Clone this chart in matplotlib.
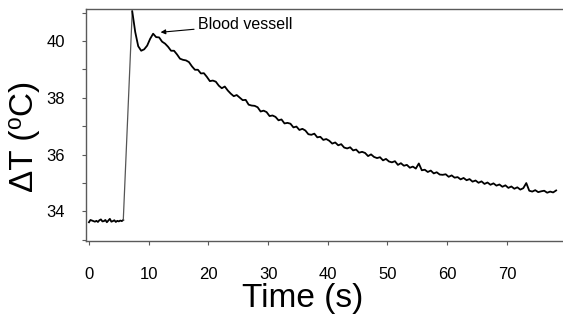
import numpy as np
import matplotlib
matplotlib.use("Agg")
import matplotlib.pyplot as plt

plt.rcParams['font.family'] = ['Liberation Sans', 'DejaVu Sans']

# baseline before the heating, sampled every 0.25 s
base_t0 = 0.0
base_dt = 0.25
base_T = [33.62, 33.70, 33.68, 33.66, 33.64, 33.67, 33.63, 33.69,
          33.72, 33.65, 33.66, 33.70, 33.62, 33.68, 33.74, 33.64,
          33.66, 33.69, 33.63, 33.67, 33.65, 33.68, 33.66, 33.70]

# trace after the jump, sampled every 0.5 s
trace_t0 = 7.25
trace_dt = 0.5
trace_T = [41.05, 40.32, 39.82, 39.66, 39.71, 39.84, 40.08, 40.26, 40.14, 40.13,
           39.98, 39.91,
           39.80, 39.66, 39.66, 39.53, 39.38, 39.34, 39.32, 39.26, 39.11, 38.99,
           38.99, 38.86, 38.87, 38.74, 38.59, 38.61, 38.57, 38.43, 38.34, 38.40,
           38.26, 38.15, 38.06, 38.10, 38.01, 37.92, 37.93, 37.76, 37.73, 37.72,
           37.67, 37.52, 37.55, 37.50, 37.36, 37.38, 37.33, 37.21, 37.24, 37.10,
           37.12, 37.09, 36.96, 36.99, 36.87, 36.91, 36.85, 36.72, 36.70, 36.74,
           36.61, 36.63, 36.52, 36.55, 36.49, 36.39, 36.43, 36.33, 36.37, 36.25,
           36.22, 36.26, 36.15, 36.18, 36.07, 36.10, 36.06, 35.95, 36.01, 35.92,
           35.88, 35.91, 35.80, 35.85, 35.76, 35.73, 35.77, 35.64, 35.70, 35.61,
           35.64, 35.54, 35.58, 35.51, 35.69, 35.45, 35.47, 35.39, 35.44, 35.34,
           35.38, 35.30, 35.29, 35.31, 35.22, 35.27, 35.19, 35.21, 35.13, 35.18,
           35.10, 35.14, 35.05, 35.09, 35.01, 35.06, 34.97, 35.02, 34.94, 34.99,
           34.91, 34.95, 34.87, 34.92, 34.83, 34.88, 34.80, 34.85, 34.77, 34.82,
           35.00, 34.73, 34.70, 34.75, 34.68, 34.71, 34.73, 34.66, 34.70, 34.67,
           34.74]

x_ticks = [0, 10, 20, 30, 40, 50, 60, 70]
y_ticks = [34, 36, 38, 40]

t_base = base_t0 + base_dt * np.arange(len(base_T))
t_trace = trace_t0 + trace_dt * np.arange(len(trace_T))

fig = plt.figure(figsize=(5.63, 3.25), dpi=100)
ax = fig.add_axes([0.1527, 0.2585, 0.8473, 0.7138])

ax.plot(t_base, base_T, color='black', lw=1.3)
# jump between the two recordings, drawn thin
ax.plot([t_base[-1], t_trace[0]], [base_T[-1], trace_T[0]], color='#555555', lw=0.9)
ax.plot(t_trace, trace_T, color='black', lw=1.3)

ax.set_xlim(-0.5, 79.4)
ax.set_ylim(32.96, 41.13)

spine_col = '#5a5a5a'
ax.spines['right'].set_visible(False)
for s in ['left', 'top', 'bottom']:
    ax.spines[s].set_color(spine_col)
    ax.spines[s].set_linewidth(1.0)

ax.set_xticks(x_ticks)
ax.set_yticks(np.arange(33, 42, 1))
ax.set_yticklabels([str(v) if v in y_ticks else '' for v in range(33, 42)])
ax.tick_params(axis='x', length=3, color=spine_col, labelsize=12, pad=16)
ax.tick_params(axis='y', length=3, color=spine_col, labelsize=12, pad=12)

ax.set_xlabel('Time (s)', fontsize=24)
ax.xaxis.set_label_coords(0.455, -0.18)
ax.set_ylabel('ΔT (⁰C)', fontsize=24)
ax.yaxis.set_label_coords(-0.097, 0.45)

ax.annotate('Blood vessell', xy=(12.0, 40.31), xytext=(18.3, 40.58),
            fontsize=11.5, va='center', ha='left',
            arrowprops=dict(arrowstyle='-|>', color='black', lw=0.8,
                            mutation_scale=7, shrinkA=1, shrinkB=0))

fig.savefig('out.png', dpi=100)
